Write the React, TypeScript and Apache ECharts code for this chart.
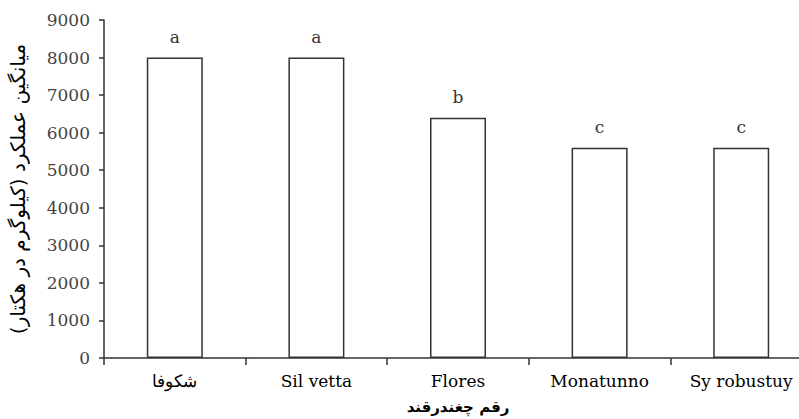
import React, { useEffect, useRef } from "react";
import * as echarts from "echarts";

const categories = ["شکوفا", "Sil vetta", "Flores", "Monatunno", "Sy robustuy"];
const yieldValues = [8000, 8000, 6400, 5600, 5600];
const groupLetters = ["a", "a", "b", "c", "c"];
const yAxisTitle = "میانگین عملکرد (کیلوگرم در هکتار)";
const xAxisTitle = "رقم چغندرقند";

export default function App() {
  const ref = useRef<HTMLDivElement>(null);
  useEffect(() => {
    if (!ref.current) return;
    const chart = echarts.init(ref.current, null, { renderer: "svg" });
    const serif = "DejaVu Serif";
    chart.setOption({
      animation: false,
      backgroundColor: "#ffffff",
      grid: { left: 104, top: 20, right: 0, bottom: 61, containLabel: false },
      xAxis: {
        type: "category",
        data: categories,
        name: xAxisTitle,
        nameLocation: "middle",
        nameGap: 41,
        nameTextStyle: { fontFamily: "DejaVu Sans", fontSize: 15, color: "#000", fontWeight: "bold" },
        axisLine: { lineStyle: { color: "#333", width: 1.5 } },
        axisTick: { show: true, length: 7, alignWithLabel: false, lineStyle: { color: "#333", width: 1.5 } },
        axisLabel: { fontFamily: serif, fontSize: 17, color: "#000", margin: 14, interval: 0 },
        splitLine: { show: false },
      },
      yAxis: {
        type: "value",
        min: 0,
        max: 9000,
        interval: 1000,
        name: yAxisTitle,
        nameLocation: "middle",
        nameGap: 76,
        nameRotate: 90,
        nameTextStyle: { fontFamily: "DejaVu Sans", fontSize: 20, color: "#000" },
        axisLine: { show: true, lineStyle: { color: "#333", width: 1.5 } },
        axisTick: { show: true, length: 5, lineStyle: { color: "#333", width: 1.5 } },
        axisLabel: {
          fontFamily: serif,
          fontSize: 17,
          color: "#444",
          margin: 14,
          formatter: (v: number) => String(v),
        },
        splitLine: { show: false },
      },
      series: [
        {
          type: "bar",
          data: yieldValues,
          barWidth: 56,
          itemStyle: { color: "#ffffff", borderColor: "#333", borderWidth: 1.5 },
          label: {
            show: true,
            position: "top",
            distance: 12,
            fontFamily: serif,
            fontSize: 17,
            color: "#333",
            formatter: (p: any) => groupLetters[p.dataIndex],
          },
        },
      ],
    });
    return () => chart.dispose();
  }, []);
  return (
    <div style={{ position: "absolute", left: 0, top: 0, width: 799, height: 419, overflow: "hidden" }}>
      <div ref={ref} style={{ position: "absolute", left: 0, top: 0, width: 812, height: 419 }} />
    </div>
  );
}
